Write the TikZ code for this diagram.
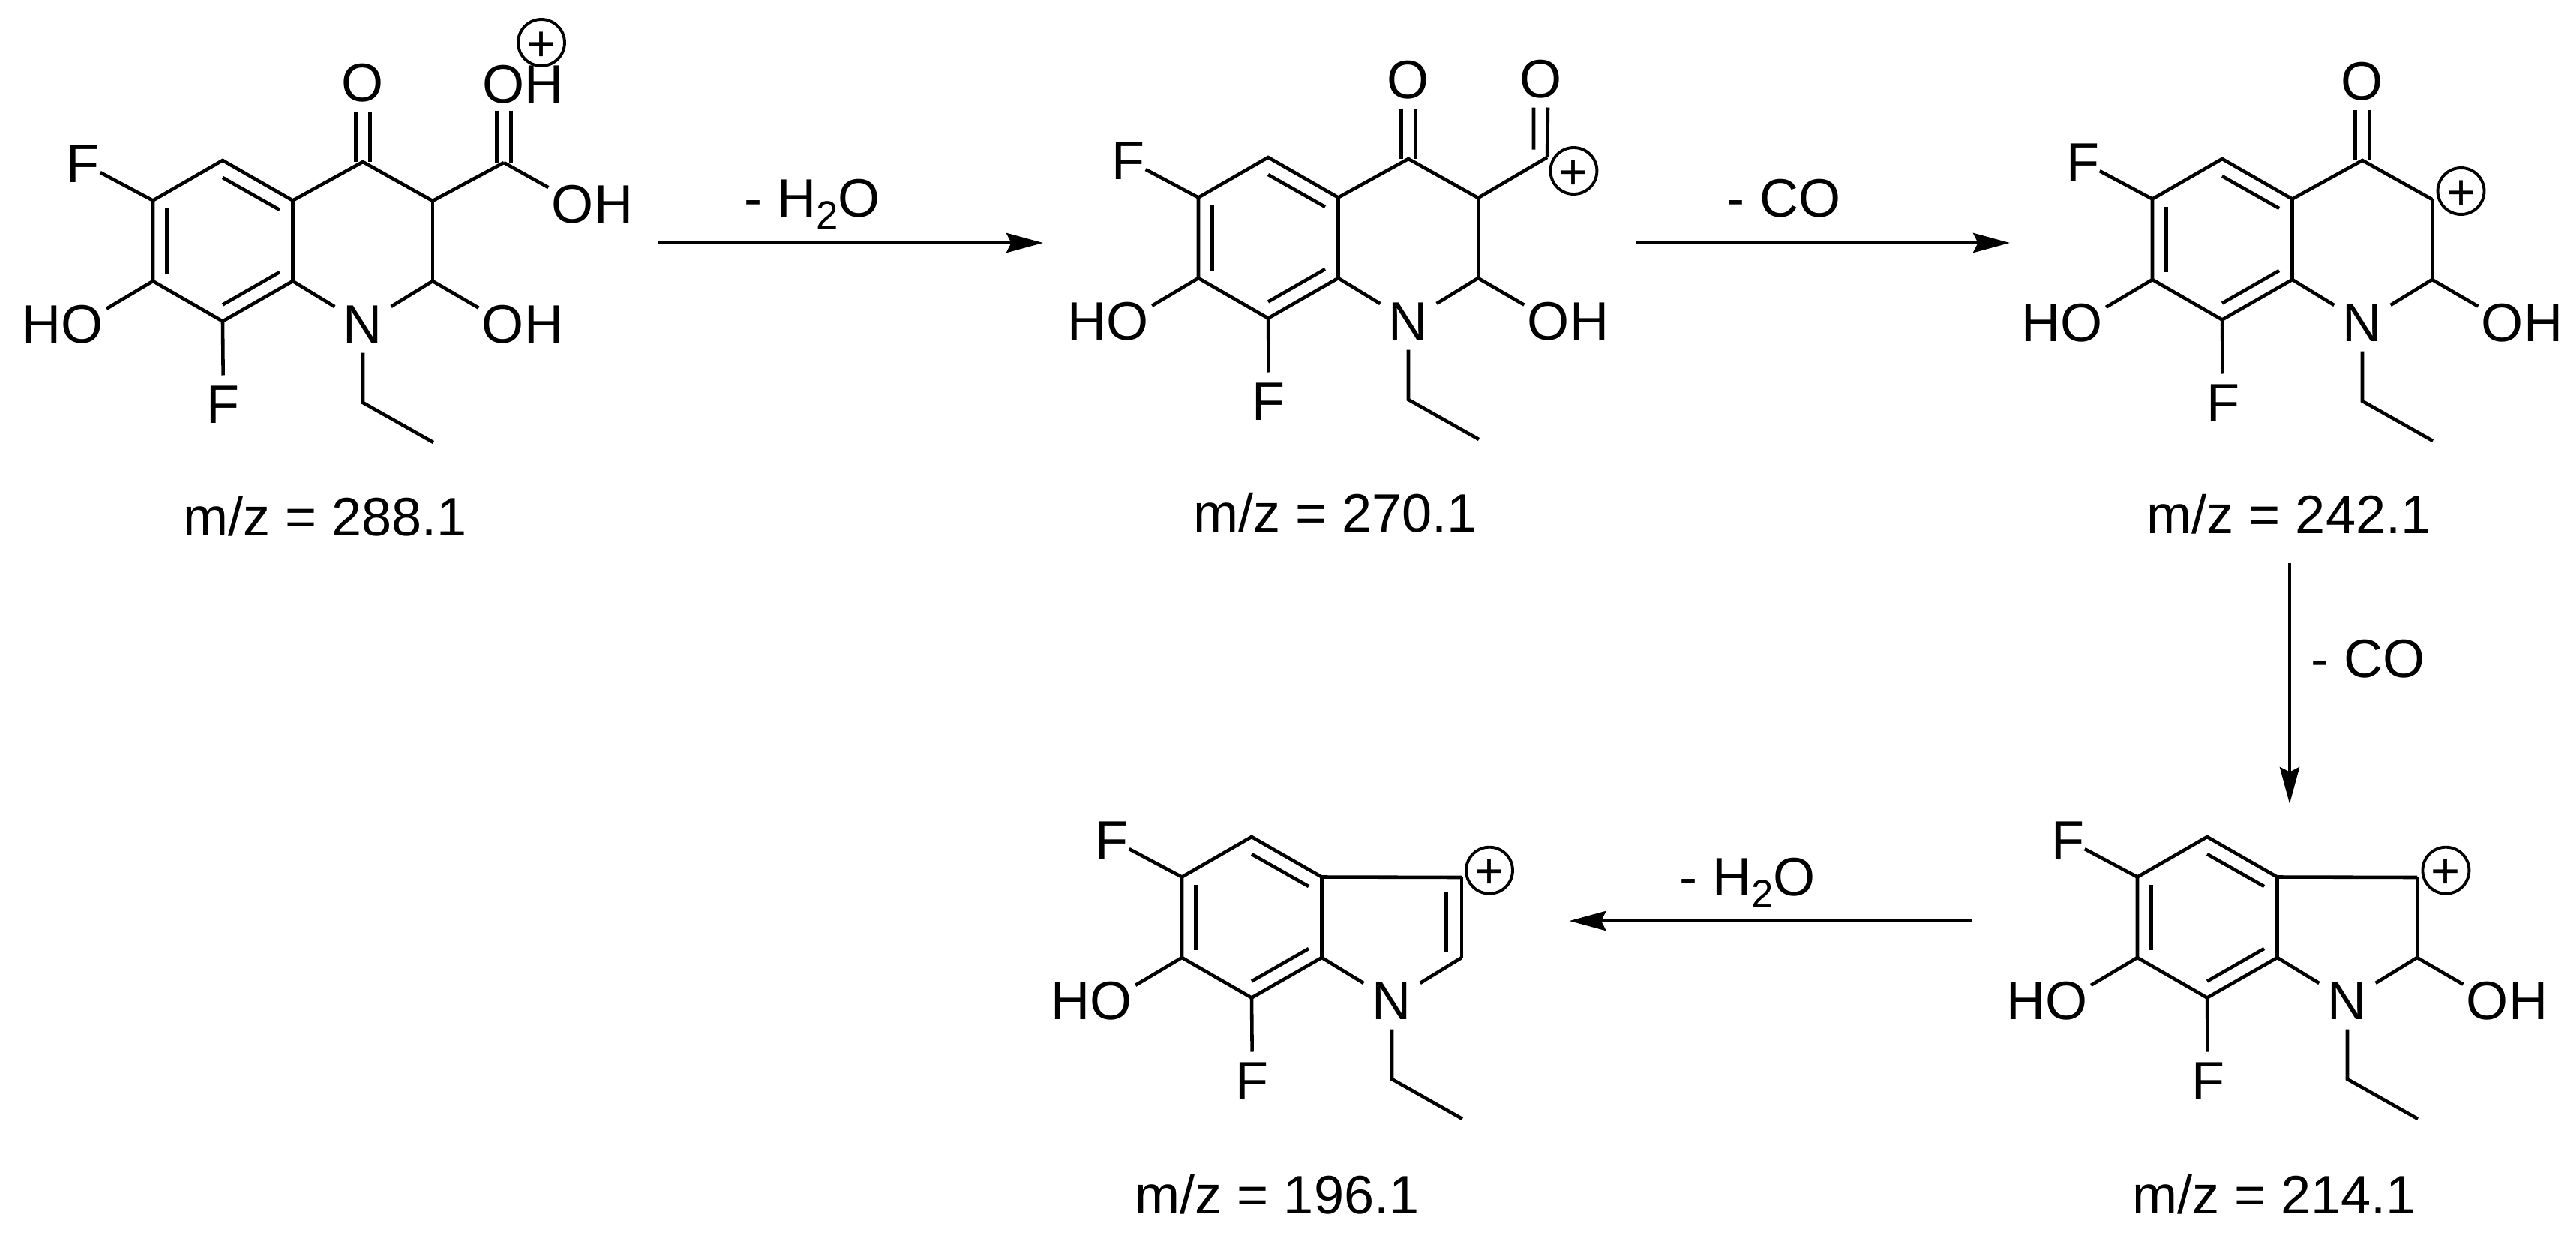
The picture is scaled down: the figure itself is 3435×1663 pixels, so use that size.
\documentclass[tikz,border=0pt]{standalone}
\usepackage{fontspec}
\setmainfont{Liberation Sans}
\usetikzlibrary{arrows.meta,calc}
\tikzstyle{bond}=[draw,line width=1.3pt]
\tikzstyle{arrow}=[draw,line width=1.3pt,-{Stealth[length=13.9pt,width=7.4pt,inset=1.8pt]}]
\tikzstyle{atom}=[inner xsep=1.1pt,inner ysep=3.4pt,text height=14.7pt,text depth=0pt,font=\fontsize{20.5}{24}\selectfont]
\tikzstyle{textlabel}=[inner sep=0pt,text height=14.7pt,text depth=0pt,font=\fontsize{20.5}{24}\selectfont]
\tikzstyle{charge}=[draw,circle,line width=1.1pt,inner sep=0pt,minimum size=16pt,text height=13.7pt,text depth=0pt,font=\fontsize{19}{19}\selectfont]
\newcommand{\subtwo}{\raisebox{-4.5pt}{\fontsize{15}{15}\selectfont 2}}
% benzene ring, F, HO, F, N-ethyl and C2-C3, common to all five ions
\newcommand{\skeleton}[3]{%
\begin{scope}[shift={(#2,#3)}]
\coordinate (#1a) at (0,0);
\coordinate (#1b) at (-93,53.5);
\coordinate (#1c) at (-93,161);
\coordinate (#1d) at (0,214.5);
\coordinate (#1e) at (93.5,161);
\coordinate (#1f) at (93.5,53.5);
\coordinate (#1cthree) at (280,54);
\coordinate (#1ctwo) at (280,161);
\coordinate (#1et) at (187,323);
\coordinate (#1me) at (281,376);
\coordinate (#1ia) at (-74.5,64);
\coordinate (#1ib) at (-74.5,151);
\coordinate (#1ic) at (0,23);
\coordinate (#1id) at (76,66);
\coordinate (#1ie) at (0,192.5);
\coordinate (#1if) at (76,149);
\node[atom,inner xsep=0pt] (#1fa) at (-186,4) {F};
\node[atom] (#1ho) at (-213.5,218) {HO};
\node[atom,inner xsep=0pt] (#1fb) at (1,325) {F};
\node[atom,inner xsep=3.1pt] (#1n) at (187,218) {N};
\end{scope}
\draw[bond] (#1a) -- (#1b) -- (#1c) -- (#1d) -- (#1e) -- (#1f) -- cycle;
\draw[bond] (#1ia) -- (#1ib);
\draw[bond] (#1ic) -- (#1id);
\draw[bond] (#1ie) -- (#1if);
\draw[bond] (#1b) -- (#1fa);
\draw[bond] (#1c) -- (#1ho.19.5);
\draw[bond] (#1d) -- (#1fb);
\draw[bond] (#1e) -- (#1n);
\draw[bond] (#1ctwo) -- (#1n);
\draw[bond] (#1cthree) -- (#1ctwo);
\draw[bond] (#1n) -- (#1et) -- (#1me);
}
% ring C=O
\newcommand{\ketone}[1]{%
\coordinate (#1cfour) at ($(#1a)+(187,2)$);
\node[atom] (#1ok) at ($(#1a)+(187,-104)$) {O};
\draw[bond] (#1f) -- (#1cfour) -- (#1cthree);
\draw[bond] ([xshift=-2.7pt]#1cfour) -- ([xshift=-2.7pt]#1ok.south);
\draw[bond] ([xshift=2.7pt]#1cfour) -- ([xshift=2.7pt]#1ok.south);
}
% OH on C2
\newcommand{\ringoh}[1]{%
\node[atom] (#1oh) at ($(#1n)+(213,0)$) {OH};
\draw[bond] (#1ctwo) -- (#1oh.160.5);
}
\begin{document}
\begin{tikzpicture}[x=0.01cm,y=-0.01cm]
\useasboundingbox (0,0) rectangle (3435,1663);
% m/z 288.1
\skeleton{ma}{297}{214}
\ketone{ma}
\ringoh{ma}
\coordinate (macooh) at (672,217);
\coordinate (macarb) at (672,148);
\node[atom] (maohp) at (697.5,111.5) {OH};
\node[charge] (maplus) at (722,57) {+};
\node[atom] (maoh) at (790,271.5) {OH};
\draw[bond] (macthree) -- (macooh);
\draw[bond] (macooh) -- (maoh.160.5);
\draw[bond] ([xshift=-2.7pt]macooh) -- ([xshift=-2.7pt]macarb);
\draw[bond] ([xshift=2.7pt]macooh) -- ([xshift=2.7pt]macarb);
\node[textlabel] (mamz) at (433.5,689) {m/z = 288.1};
% m/z 270.1
\skeleton{mb}{1691}{210}
\ketone{mb}
\ringoh{mb}
\coordinate (mbcho) at (2063,210);
\coordinate (mbchi) at (2045,199.6);
\node[atom] (mbo) at (2054.5,105) {O};
\node[charge] (mbplus) at (2098.4,228) {+};
\draw[bond] (mbcthree) -- (mbcho);
\draw[bond] (mbcho) -- ([xshift=2.7pt]mbo.south);
\draw[bond] (mbchi) -- ([xshift=-2.7pt]mbo.south);
\node[textlabel] (mbmz) at (1780.5,684) {m/z = 270.1};
% m/z 242.1
\skeleton{mc}{2963}{212}
\ketone{mc}
\ringoh{mc}
\node[charge] (mcplus) at (3281.5,255) {+};
\node[textlabel] (mcmz) at (3052,686) {m/z = 242.1};
% m/z 214.1
\skeleton{md}{2943}{1116}
\ringoh{md}
\draw[bond] (mdf) -- (mdcthree);
\node[charge] (mdplus) at (3261.4,1160.7) {+};
\node[textlabel] (mdmz) at (3032.6,1593) {m/z = 214.1};
% m/z 196.1
\skeleton{me}{1669}{1116}
\coordinate (meia) at (1928.6,1189);
\coordinate (meib) at (1928.6,1268.5);
\draw[bond] (mef) -- (mecthree);
\draw[bond] (meia) -- (meib);
\node[charge] (meplus) at (1986,1160.7) {+};
\node[textlabel] (memz) at (1703,1593) {m/z = 196.1};
% arrows
\coordinate (aas) at (877,324);
\coordinate (aae) at (1391,324);
\coordinate (abs) at (2182,324);
\coordinate (abe) at (2680,324);
\coordinate (acs) at (3053,751);
\coordinate (ace) at (3053,1072);
\coordinate (ads) at (2629,1228);
\coordinate (ade) at (2092.5,1228);
\draw[arrow] (aas) -- (aae);
\draw[arrow] (abs) -- (abe);
\draw[arrow] (acs) -- (ace);
\draw[arrow] (ads) -- (ade);
\node[textlabel] (aalab) at (1083,264) {- H\subtwo O};
\node[textlabel] (ablab) at (2379,264) {- CO};
\node[textlabel] (aclab) at (3158,878) {- CO};
\node[textlabel] (adlab) at (2330,1169) {- H\subtwo O};
\end{tikzpicture}
\end{document}
